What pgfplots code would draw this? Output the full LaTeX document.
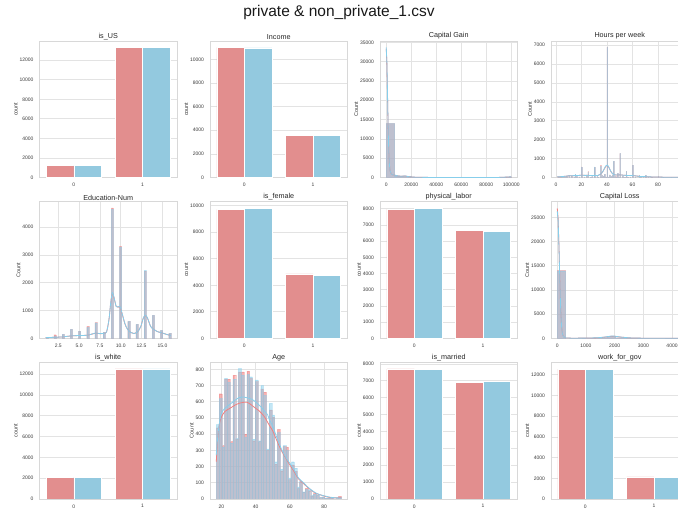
\documentclass[border=0pt]{standalone}
\usepackage{pgfplots}
\pgfplotsset{compat=1.18}
\usepackage{pgfplotstable}
\usepackage{fontspec}
\setmainfont{Liberation Sans}
\definecolor{cR}{HTML}{E28E8E}
\definecolor{cB}{HTML}{93C9DF}
\definecolor{hR}{HTML}{F08080}
\definecolor{hB}{HTML}{87CEEB}
\definecolor{gridc}{HTML}{E3E3E3}
\definecolor{spinec}{HTML}{D8D8D8}
\definecolor{tickc}{HTML}{3A3A3A}

\pgfplotsset{
 base/.style={scale only axis, width=137.5pt, height=136.5pt, anchor=south west,
   axis line style={draw=spinec, line width=0.9pt},
   major tick length=0pt, tick style={draw=none},
   tick label style={font=\fontsize{5}{6}\selectfont, text=tickc},
   yticklabel style={xshift=-2.5pt},
   xticklabel style={yshift=-2pt},
   title style={font=\fontsize{7.2}{8.6}\selectfont, text=black!85, yshift=-8pt},
   ylabel style={font=\fontsize{5.5}{6.6}\selectfont, text=tickc},
   ylabel shift=-5pt,
   grid style={draw=gridc, line width=0.7pt},
   ymajorgrids, ymin=0,
   /pgf/number format/fixed,
   /pgf/number format/assume math mode=true,
   /pgf/number format/1000 sep={},
   scaled ticks=false,
 },
 cnt/.style={base, xmin=-0.5, xmax=1.5, xtick={0,1}, ylabel={count}},
 hst/.style={base, xmajorgrids, ylabel={Count}},
 rbar/.style={ybar, bar width=0.4, bar shift=-0.2, fill=cR, draw=white, line width=0.6pt},
 bbar/.style={ybar, bar width=0.4, bar shift=0.2, fill=cB, draw=white, line width=0.6pt},
 rh/.style={ybar, bar shift=0pt, bar width=#1, fill=hR, fill opacity=0.6, draw=hR, draw opacity=0.4, line width=0.3pt},
 bh/.style={ybar, bar shift=0pt, bar width=#1, fill=hB, fill opacity=0.5, draw=hB, draw opacity=0.4, line width=0.3pt},
 rk/.style={hR, line width=0.8pt, no markers},
 bk/.style={hB, line width=0.8pt, no markers},
}

\pgfplotstableread{
x r b
17.811 440 460
19.433 650 620
21.056 330 320
22.678 740 745
24.300 740 720
25.922 355 345
27.544 765 740
29.167 370 375
30.789 785 805
32.411 785 765
34.033 400 380
35.656 790 770
37.278 745 755
38.900 360 370
40.522 725 735
42.144 355 360
43.767 680 700
45.389 660 640
47.011 300 310
48.633 550 590
50.255 505 520
51.878 215 230
53.500 430 410
55.122 175 185
56.744 325 330
58.367 320 300
59.989 120 130
61.611 210 230
63.233 170 190
64.855 65 75
66.478 105 110
68.100 42 45
69.722 65 60
71.344 50 55
72.966 20 22
74.589 33 30
76.211 22 25
77.833 9 10
79.455 13 14
81.078 5 6
82.700 7 8
84.322 5 4
85.944 2 2
87.566 3 3
89.189 16 10
}\agetab

\pgfplotstableread{
x r b
1.123 30 35
2.107 130 85
3.090 145 140
4.074 325 320
5.057 255 250
6.041 430 395
7.025 565 560
8.008 215 210
8.992 4690 4650
9.975 3310 3290
10.959 605 610
11.943 500 505
12.926 2420 2440
13.910 820 826
14.893 280 285
15.877 175 180
}\edutab

\pgfplotstableread{
x r b
2.2 15 12
3.2 20 18
4.2 25 22
5.2 35 30
6.2 35 40
7.2 20 20
8.2 60 55
10.2 100 110
12.2 80 75
14.2 20 20
15.2 170 180
16.2 50 55
18.2 40 35
20.2 560 550
22.2 35 35
24.2 85 80
25.2 310 300
27.2 25 25
28.2 60 55
30.2 540 560
32.2 120 115
33.2 25 25
35.2 640 590
36.2 110 100
37.2 70 65
38.2 170 160
39.2 30 30
40.2 6900 6880
41.2 30 30
42.2 140 150
43.2 80 75
44.2 110 115
45.2 850 860
46.2 60 60
47.2 45 40
48.2 210 215
49.2 30 30
50.2 1270 1280
52.2 60 60
53.2 20 20
54.2 25 25
55.2 320 330
56.2 40 40
58.2 30 30
60.2 660 650
62.2 20 20
65.2 110 105
66.2 15 15
68.2 10 10
70.2 115 120
72.2 25 25
75.2 25 25
80.2 45 50
84.2 15 15
90.2 10 10
99.2 15 15
}\hrstab

\pgfplotstableread{
x r b
3333.3 13950 13950
10000.0 420 430
16666.6 230 240
23333.3 40 45
30000.0 15 15
36666.6 8 8
43333.3 5 5
50000.0 3 3
56666.6 2 2
63333.3 2 2
70000.0 2 2
76666.6 2 2
83333.3 2 2
90000.0 2 2
96666.6 80 75
}\cgtab

\pgfplotstableread{
x r b
145.2 14000 13990
1016.4 5 5
1306.8 30 30
1597.2 130 140
1887.6 420 440
2178.0 120 125
2468.4 40 40
2758.8 12 12
3049.2 4 4
3920.4 3 3
4210.8 2 2
}\cltab

\begin{document}
\begin{tikzpicture}

\node[font=\fontsize{15.5}{17}\selectfont, text=black!90] at (339pt,497pt) {private \& non\_private\_1.csv};

% ---------- Row 1 ----------
\begin{axis}[cnt, at={(39.5pt,332.5pt)}, title={is\_US}, ymax=13965, ytick={0,2000,...,14000}]
\addplot[rbar] coordinates {(0,1270) (1,13300)};
\addplot[bbar] coordinates {(0,1250) (1,13290)};
\end{axis}

\begin{axis}[cnt, at={(210pt,332.5pt)}, title={Income}, ymax=11550, ytick={0,2000,...,10000}]
\addplot[rbar] coordinates {(0,11000) (1,3560)};
\addplot[bbar] coordinates {(0,10960) (1,3580)};
\end{axis}

\begin{axis}[hst, at={(380pt,332.5pt)}, title={Capital Gain}, xmin=-5000, xmax=105000, ymax=35350,
  xtick={0,20000,40000,60000,80000,100000}, xticklabels={0,20000,40000,60000,80000,100000}, ytick={0,5000,...,35000}]
\addplot[rh=6666.6] table[x=x,y=r] {\cgtab};
\addplot[bh=6666.6] table[x=x,y=b] {\cgtab};
\addplot[rk] coordinates {(0,33300) (500,29500) (1000,21500) (1500,12800) (2000,6900) (2500,3500) (3000,1800) (4000,900) (5000,700) (6000,640) (7000,590) (8000,500) (10000,380) (12000,300) (14000,370) (15000,410) (16000,340) (18000,200) (20000,120) (25000,60) (30000,30) (40000,10) (60000,5) (90000,20) (97000,110) (99999,190)};
\addplot[bk] coordinates {(0,33670) (500,30000) (1000,22000) (1500,13000) (2000,7000) (2500,3500) (3000,1800) (4000,900) (5000,700) (6000,650) (7000,600) (8000,500) (10000,380) (12000,300) (14000,380) (15000,420) (16000,350) (18000,200) (20000,120) (25000,60) (30000,30) (40000,10) (60000,5) (90000,20) (97000,120) (99999,200)};
\end{axis}

\begin{axis}[hst, at={(551pt,332.5pt)}, title={Hours per week}, xmin=-3.9, xmax=103.9, ymax=7220,
  xtick={0,20,...,80}, ytick={0,1000,...,7000}]
\addplot[rh=0.41] table[x=x,y=r] {\hrstab};
\addplot[bh=0.41] table[x=x,y=b] {\hrstab};
\addplot[rk, smooth] coordinates {(1,30) (5,50) (8,70) (10,90) (12,95) (15,100) (18,110) (20,120) (23,110) (25,115) (28,100) (30,110) (33,110) (35,170) (37,340) (39,590) (40,630) (41,590) (43,320) (45,160) (47,130) (50,140) (53,120) (55,110) (58,100) (60,100) (63,80) (65,60) (70,45) (75,30) (80,25) (85,15) (90,10) (99,8)};
\addplot[bk, smooth] coordinates {(1,30) (5,50) (8,70) (10,90) (12,95) (15,100) (18,110) (20,120) (23,110) (25,115) (28,100) (30,110) (33,110) (35,180) (37,350) (39,610) (40,650) (41,610) (43,330) (45,160) (47,130) (50,140) (53,120) (55,110) (58,100) (60,100) (63,80) (65,60) (70,45) (75,30) (80,25) (85,15) (90,10) (99,8)};
\end{axis}

% ---------- Row 2 ----------
\begin{axis}[hst, at={(39.5pt,171.7pt)}, title={Education-Num}, xmin=0.25, xmax=16.75, ymax=4910,
  xtick={2.5,5,7.5,10,12.5,15}, xticklabels={2.5,5.0,7.5,10.0,12.5,15.0}, ytick={0,1000,...,4000}]
\addplot[rh=0.246] table[x=x,y=r] {\edutab};
\addplot[bh=0.246] table[x=x,y=b] {\edutab};
\addplot[rk, smooth] coordinates {(1,25) (2,35) (3,50) (4,85) (5,100) (6,110) (7,185) (7.5,165) (8,180) (8.3,230) (8.6,700) (8.8,1280) (9,1620) (9.2,1450) (9.45,1150) (9.7,1120) (9.9,1130) (10.15,900) (10.5,520) (10.8,330) (11.2,210) (11.6,170) (12,220) (12.4,420) (12.7,720) (12.95,820) (13.2,730) (13.6,420) (14,310) (14.4,240) (15,190) (15.5,140) (16,100)};
\addplot[bk, smooth] coordinates {(1,25) (2,35) (3,50) (4,85) (5,100) (6,110) (7,190) (7.5,170) (8,180) (8.3,230) (8.6,700) (8.8,1300) (9,1640) (9.2,1460) (9.45,1150) (9.7,1130) (9.9,1150) (10.15,910) (10.5,530) (10.8,330) (11.2,210) (11.6,170) (12,220) (12.4,420) (12.7,730) (12.95,826) (13.2,740) (13.6,420) (14,310) (14.4,240) (15,190) (15.5,140) (16,100)};
\end{axis}

\begin{axis}[cnt, at={(210pt,171.7pt)}, title={is\_female}, ymax=10300, ytick={0,2000,...,10000}]
\addplot[rbar] coordinates {(0,9730) (1,4860)};
\addplot[bbar] coordinates {(0,9810) (1,4770)};
\end{axis}

\begin{axis}[cnt, at={(380pt,171.7pt)}, title={physical\_labor}, ymax=8435, ytick={0,1000,...,8000}]
\addplot[rbar] coordinates {(0,7980) (1,6670)};
\addplot[bbar] coordinates {(0,8035) (1,6605)};
\end{axis}

\begin{axis}[hst, at={(551pt,171.7pt)}, title={Capital Loss}, xmin=-218, xmax=4574, ymax=28250,
  xtick={0,1000,...,4000}, ytick={0,5000,...,25000}]
\addplot[rh=290.4] table[x=x,y=r] {\cltab};
\addplot[bh=290.4] table[x=x,y=b] {\cltab};
\addplot[rk] coordinates {(0,26900) (30,24800) (60,19000) (90,12000) (120,6000) (150,2500) (180,900) (220,300) (300,80) (500,20) (1000,40) (1400,100) (1600,200) (1800,350) (1900,440) (2000,420) (2200,250) (2400,150) (2600,60) (3000,20) (3500,5) (4356,2)};
\addplot[bk] coordinates {(0,26300) (30,24400) (60,18800) (90,11800) (120,5900) (150,2400) (180,900) (220,300) (300,80) (500,20) (1000,40) (1400,110) (1600,220) (1800,380) (1900,470) (2000,440) (2200,260) (2400,150) (2600,60) (3000,20) (3500,5) (4356,2)};
\end{axis}

% ---------- Row 3 ----------
\begin{axis}[cnt, at={(39.5pt,11pt)}, title={is\_white}, ymax=13125, ytick={0,2000,...,12000}]
\addplot[rbar] coordinates {(0,2110) (1,12500)};
\addplot[bbar] coordinates {(0,2110) (1,12500)};
\end{axis}

\begin{axis}[hst, at={(210pt,11pt)}, title={Age}, xmin=13.35, xmax=93.65, ymax=843,
  xtick={20,40,60,80}, ytick={0,100,...,800}]
\addplot[rh=1.6222] table[x=x,y=r] {\agetab};
\addplot[bh=1.6222] table[x=x,y=b] {\agetab};
\addplot[rk, smooth] coordinates {(17,230) (18,390) (19,470) (20,505) (22,540) (25,560) (28,580) (30,590) (33,597) (35,597) (37,585) (40,560) (42,545) (45,510) (48,455) (50,420) (52,370) (55,300) (58,245) (60,210) (63,160) (65,125) (68,95) (70,75) (73,50) (75,35) (78,25) (80,18) (83,10) (86,8) (90,8)};
\addplot[bk, smooth] coordinates {(17,270) (18,400) (19,480) (20,530) (22,560) (25,585) (28,610) (30,625) (33,630) (35,625) (38,615) (40,600) (43,570) (45,545) (47,520) (48,490) (50,450) (52,390) (55,310) (58,250) (60,220) (63,170) (65,130) (68,100) (70,78) (73,52) (75,38) (78,25) (80,20) (83,12) (86,8) (90,6)};
\end{axis}

\begin{axis}[cnt, at={(380pt,11pt)}, title={is\_married}, ymax=8085, ytick={0,1000,...,8000}]
\addplot[rbar] coordinates {(0,7700) (1,6900)};
\addplot[bbar] coordinates {(0,7660) (1,6950)};
\end{axis}

\begin{axis}[cnt, at={(551pt,11pt)}, title={work\_for\_gov}, ymax=13190, ytick={0,2000,...,12000}]
\addplot[rbar] coordinates {(0,12550) (1,2130)};
\addplot[bbar] coordinates {(0,12560) (1,2080)};
\end{axis}

\pgfresetboundingbox
\useasboundingbox (0,0) rectangle (678pt,510pt);
\end{tikzpicture}
\end{document}
